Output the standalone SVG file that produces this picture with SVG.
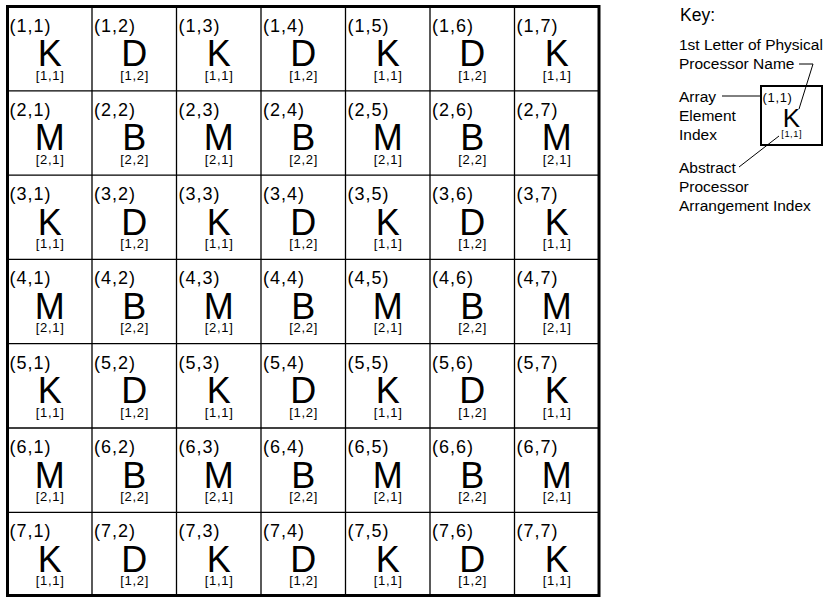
<svg xmlns="http://www.w3.org/2000/svg" width="826" height="597" viewBox="0 0 826 597">
<style>
text{font-family:"Liberation Sans",Arial,sans-serif;fill:#000}
.lb{font-size:18px;letter-spacing:1px}
.bg{font-size:36px;text-anchor:middle}
.ix{font-size:13px;letter-spacing:0.7px;text-anchor:middle}
.kt{font-size:15.5px}
.grid line{stroke:#000;stroke-width:1.3}
.lead{stroke:#000;stroke-width:1;fill:none}
</style>
<rect width="826" height="597" fill="#fff"/>
<g id="grid" class="grid">
<line x1="92" y1="6.5" x2="92" y2="595.5"/>
<line x1="176.5" y1="6.5" x2="176.5" y2="595.5"/>
<line x1="261" y1="6.5" x2="261" y2="595.5"/>
<line x1="345.5" y1="6.5" x2="345.5" y2="595.5"/>
<line x1="430" y1="6.5" x2="430" y2="595.5"/>
<line x1="514.5" y1="6.5" x2="514.5" y2="595.5"/>
<line x1="7.5" y1="90.8" x2="599" y2="90.8"/>
<line x1="7.5" y1="175.1" x2="599" y2="175.1"/>
<line x1="7.5" y1="259.4" x2="599" y2="259.4"/>
<line x1="7.5" y1="343.7" x2="599" y2="343.7"/>
<line x1="7.5" y1="428" x2="599" y2="428"/>
<line x1="7.5" y1="512.3" x2="599" y2="512.3"/>
<rect x="7.5" y="6.5" width="591.5" height="589" fill="none" stroke="#000" stroke-width="3"/>
</g>
<g id="r1">
<g id="c1-1" transform="translate(7.5,6.5)"><text class="lb" x="2" y="25">(1,1)</text><text class="bg" x="42.25" y="59.5">K</text><text class="ix" x="42.6" y="73">[1,1]</text></g>
<g id="c1-2" transform="translate(92,6.5)"><text class="lb" x="2" y="25">(1,2)</text><text class="bg" x="42.25" y="59.5">D</text><text class="ix" x="42.6" y="73">[1,2]</text></g>
<g id="c1-3" transform="translate(176.5,6.5)"><text class="lb" x="2" y="25">(1,3)</text><text class="bg" x="42.25" y="59.5">K</text><text class="ix" x="42.6" y="73">[1,1]</text></g>
<g id="c1-4" transform="translate(261,6.5)"><text class="lb" x="2" y="25">(1,4)</text><text class="bg" x="42.25" y="59.5">D</text><text class="ix" x="42.6" y="73">[1,2]</text></g>
<g id="c1-5" transform="translate(345.5,6.5)"><text class="lb" x="2" y="25">(1,5)</text><text class="bg" x="42.25" y="59.5">K</text><text class="ix" x="42.6" y="73">[1,1]</text></g>
<g id="c1-6" transform="translate(430,6.5)"><text class="lb" x="2" y="25">(1,6)</text><text class="bg" x="42.25" y="59.5">D</text><text class="ix" x="42.6" y="73">[1,2]</text></g>
<g id="c1-7" transform="translate(514.5,6.5)"><text class="lb" x="2" y="25">(1,7)</text><text class="bg" x="42.25" y="59.5">K</text><text class="ix" x="42.6" y="73">[1,1]</text></g>
</g>
<g id="r2">
<g id="c2-1" transform="translate(7.5,90.8)"><text class="lb" x="2" y="25">(2,1)</text><text class="bg" x="42.25" y="59.5">M</text><text class="ix" x="42.6" y="73">[2,1]</text></g>
<g id="c2-2" transform="translate(92,90.8)"><text class="lb" x="2" y="25">(2,2)</text><text class="bg" x="42.25" y="59.5">B</text><text class="ix" x="42.6" y="73">[2,2]</text></g>
<g id="c2-3" transform="translate(176.5,90.8)"><text class="lb" x="2" y="25">(2,3)</text><text class="bg" x="42.25" y="59.5">M</text><text class="ix" x="42.6" y="73">[2,1]</text></g>
<g id="c2-4" transform="translate(261,90.8)"><text class="lb" x="2" y="25">(2,4)</text><text class="bg" x="42.25" y="59.5">B</text><text class="ix" x="42.6" y="73">[2,2]</text></g>
<g id="c2-5" transform="translate(345.5,90.8)"><text class="lb" x="2" y="25">(2,5)</text><text class="bg" x="42.25" y="59.5">M</text><text class="ix" x="42.6" y="73">[2,1]</text></g>
<g id="c2-6" transform="translate(430,90.8)"><text class="lb" x="2" y="25">(2,6)</text><text class="bg" x="42.25" y="59.5">B</text><text class="ix" x="42.6" y="73">[2,2]</text></g>
<g id="c2-7" transform="translate(514.5,90.8)"><text class="lb" x="2" y="25">(2,7)</text><text class="bg" x="42.25" y="59.5">M</text><text class="ix" x="42.6" y="73">[2,1]</text></g>
</g>
<g id="r3">
<g id="c3-1" transform="translate(7.5,175.1)"><text class="lb" x="2" y="25">(3,1)</text><text class="bg" x="42.25" y="59.5">K</text><text class="ix" x="42.6" y="73">[1,1]</text></g>
<g id="c3-2" transform="translate(92,175.1)"><text class="lb" x="2" y="25">(3,2)</text><text class="bg" x="42.25" y="59.5">D</text><text class="ix" x="42.6" y="73">[1,2]</text></g>
<g id="c3-3" transform="translate(176.5,175.1)"><text class="lb" x="2" y="25">(3,3)</text><text class="bg" x="42.25" y="59.5">K</text><text class="ix" x="42.6" y="73">[1,1]</text></g>
<g id="c3-4" transform="translate(261,175.1)"><text class="lb" x="2" y="25">(3,4)</text><text class="bg" x="42.25" y="59.5">D</text><text class="ix" x="42.6" y="73">[1,2]</text></g>
<g id="c3-5" transform="translate(345.5,175.1)"><text class="lb" x="2" y="25">(3,5)</text><text class="bg" x="42.25" y="59.5">K</text><text class="ix" x="42.6" y="73">[1,1]</text></g>
<g id="c3-6" transform="translate(430,175.1)"><text class="lb" x="2" y="25">(3,6)</text><text class="bg" x="42.25" y="59.5">D</text><text class="ix" x="42.6" y="73">[1,2]</text></g>
<g id="c3-7" transform="translate(514.5,175.1)"><text class="lb" x="2" y="25">(3,7)</text><text class="bg" x="42.25" y="59.5">K</text><text class="ix" x="42.6" y="73">[1,1]</text></g>
</g>
<g id="r4">
<g id="c4-1" transform="translate(7.5,259.4)"><text class="lb" x="2" y="25">(4,1)</text><text class="bg" x="42.25" y="59.5">M</text><text class="ix" x="42.6" y="73">[2,1]</text></g>
<g id="c4-2" transform="translate(92,259.4)"><text class="lb" x="2" y="25">(4,2)</text><text class="bg" x="42.25" y="59.5">B</text><text class="ix" x="42.6" y="73">[2,2]</text></g>
<g id="c4-3" transform="translate(176.5,259.4)"><text class="lb" x="2" y="25">(4,3)</text><text class="bg" x="42.25" y="59.5">M</text><text class="ix" x="42.6" y="73">[2,1]</text></g>
<g id="c4-4" transform="translate(261,259.4)"><text class="lb" x="2" y="25">(4,4)</text><text class="bg" x="42.25" y="59.5">B</text><text class="ix" x="42.6" y="73">[2,2]</text></g>
<g id="c4-5" transform="translate(345.5,259.4)"><text class="lb" x="2" y="25">(4,5)</text><text class="bg" x="42.25" y="59.5">M</text><text class="ix" x="42.6" y="73">[2,1]</text></g>
<g id="c4-6" transform="translate(430,259.4)"><text class="lb" x="2" y="25">(4,6)</text><text class="bg" x="42.25" y="59.5">B</text><text class="ix" x="42.6" y="73">[2,2]</text></g>
<g id="c4-7" transform="translate(514.5,259.4)"><text class="lb" x="2" y="25">(4,7)</text><text class="bg" x="42.25" y="59.5">M</text><text class="ix" x="42.6" y="73">[2,1]</text></g>
</g>
<g id="r5">
<g id="c5-1" transform="translate(7.5,343.7)"><text class="lb" x="2" y="25">(5,1)</text><text class="bg" x="42.25" y="59.5">K</text><text class="ix" x="42.6" y="73">[1,1]</text></g>
<g id="c5-2" transform="translate(92,343.7)"><text class="lb" x="2" y="25">(5,2)</text><text class="bg" x="42.25" y="59.5">D</text><text class="ix" x="42.6" y="73">[1,2]</text></g>
<g id="c5-3" transform="translate(176.5,343.7)"><text class="lb" x="2" y="25">(5,3)</text><text class="bg" x="42.25" y="59.5">K</text><text class="ix" x="42.6" y="73">[1,1]</text></g>
<g id="c5-4" transform="translate(261,343.7)"><text class="lb" x="2" y="25">(5,4)</text><text class="bg" x="42.25" y="59.5">D</text><text class="ix" x="42.6" y="73">[1,2]</text></g>
<g id="c5-5" transform="translate(345.5,343.7)"><text class="lb" x="2" y="25">(5,5)</text><text class="bg" x="42.25" y="59.5">K</text><text class="ix" x="42.6" y="73">[1,1]</text></g>
<g id="c5-6" transform="translate(430,343.7)"><text class="lb" x="2" y="25">(5,6)</text><text class="bg" x="42.25" y="59.5">D</text><text class="ix" x="42.6" y="73">[1,2]</text></g>
<g id="c5-7" transform="translate(514.5,343.7)"><text class="lb" x="2" y="25">(5,7)</text><text class="bg" x="42.25" y="59.5">K</text><text class="ix" x="42.6" y="73">[1,1]</text></g>
</g>
<g id="r6">
<g id="c6-1" transform="translate(7.5,428)"><text class="lb" x="2" y="25">(6,1)</text><text class="bg" x="42.25" y="59.5">M</text><text class="ix" x="42.6" y="73">[2,1]</text></g>
<g id="c6-2" transform="translate(92,428)"><text class="lb" x="2" y="25">(6,2)</text><text class="bg" x="42.25" y="59.5">B</text><text class="ix" x="42.6" y="73">[2,2]</text></g>
<g id="c6-3" transform="translate(176.5,428)"><text class="lb" x="2" y="25">(6,3)</text><text class="bg" x="42.25" y="59.5">M</text><text class="ix" x="42.6" y="73">[2,1]</text></g>
<g id="c6-4" transform="translate(261,428)"><text class="lb" x="2" y="25">(6,4)</text><text class="bg" x="42.25" y="59.5">B</text><text class="ix" x="42.6" y="73">[2,2]</text></g>
<g id="c6-5" transform="translate(345.5,428)"><text class="lb" x="2" y="25">(6,5)</text><text class="bg" x="42.25" y="59.5">M</text><text class="ix" x="42.6" y="73">[2,1]</text></g>
<g id="c6-6" transform="translate(430,428)"><text class="lb" x="2" y="25">(6,6)</text><text class="bg" x="42.25" y="59.5">B</text><text class="ix" x="42.6" y="73">[2,2]</text></g>
<g id="c6-7" transform="translate(514.5,428)"><text class="lb" x="2" y="25">(6,7)</text><text class="bg" x="42.25" y="59.5">M</text><text class="ix" x="42.6" y="73">[2,1]</text></g>
</g>
<g id="r7">
<g id="c7-1" transform="translate(7.5,512.3)"><text class="lb" x="2" y="25">(7,1)</text><text class="bg" x="42.25" y="59.5">K</text><text class="ix" x="42.6" y="73">[1,1]</text></g>
<g id="c7-2" transform="translate(92,512.3)"><text class="lb" x="2" y="25">(7,2)</text><text class="bg" x="42.25" y="59.5">D</text><text class="ix" x="42.6" y="73">[1,2]</text></g>
<g id="c7-3" transform="translate(176.5,512.3)"><text class="lb" x="2" y="25">(7,3)</text><text class="bg" x="42.25" y="59.5">K</text><text class="ix" x="42.6" y="73">[1,1]</text></g>
<g id="c7-4" transform="translate(261,512.3)"><text class="lb" x="2" y="25">(7,4)</text><text class="bg" x="42.25" y="59.5">D</text><text class="ix" x="42.6" y="73">[1,2]</text></g>
<g id="c7-5" transform="translate(345.5,512.3)"><text class="lb" x="2" y="25">(7,5)</text><text class="bg" x="42.25" y="59.5">K</text><text class="ix" x="42.6" y="73">[1,1]</text></g>
<g id="c7-6" transform="translate(430,512.3)"><text class="lb" x="2" y="25">(7,6)</text><text class="bg" x="42.25" y="59.5">D</text><text class="ix" x="42.6" y="73">[1,2]</text></g>
<g id="c7-7" transform="translate(514.5,512.3)"><text class="lb" x="2" y="25">(7,7)</text><text class="bg" x="42.25" y="59.5">K</text><text class="ix" x="42.6" y="73">[1,1]</text></g>
</g>
<g id="key">
<text x="680" y="21" style="font-size:17.5px">Key:</text>
<text class="kt" x="679" y="50">1st Letter of Physical</text>
<text class="kt" x="679" y="69">Processor Name</text>
<text class="kt" x="679" y="101.5">Array</text>
<text class="kt" x="679" y="120.7">Element</text>
<text class="kt" x="679" y="139.9">Index</text>
<text class="kt" x="679" y="172.5">Abstract</text>
<text class="kt" x="679" y="191.7">Processor</text>
<text class="kt" x="679" y="210.9">Arrangement Index</text>
</g>
<g id="key-cell">
<rect x="761" y="86" width="61" height="59" fill="none" stroke="#000" stroke-width="2"/>
<g transform="translate(761,84) scale(0.72)"><text class="lb" x="2" y="25">(1,1)</text><text class="bg" x="42.25" y="59.5">K</text><text class="ix" x="42.6" y="73">[1,1]</text></g>
</g>
<g id="connectors" class="lead">
<line x1="722" y1="96" x2="762" y2="96"/>
<polyline points="799,64 813,64 799,109"/>
<line x1="739" y1="167" x2="779" y2="136"/>
</g>
</svg>
